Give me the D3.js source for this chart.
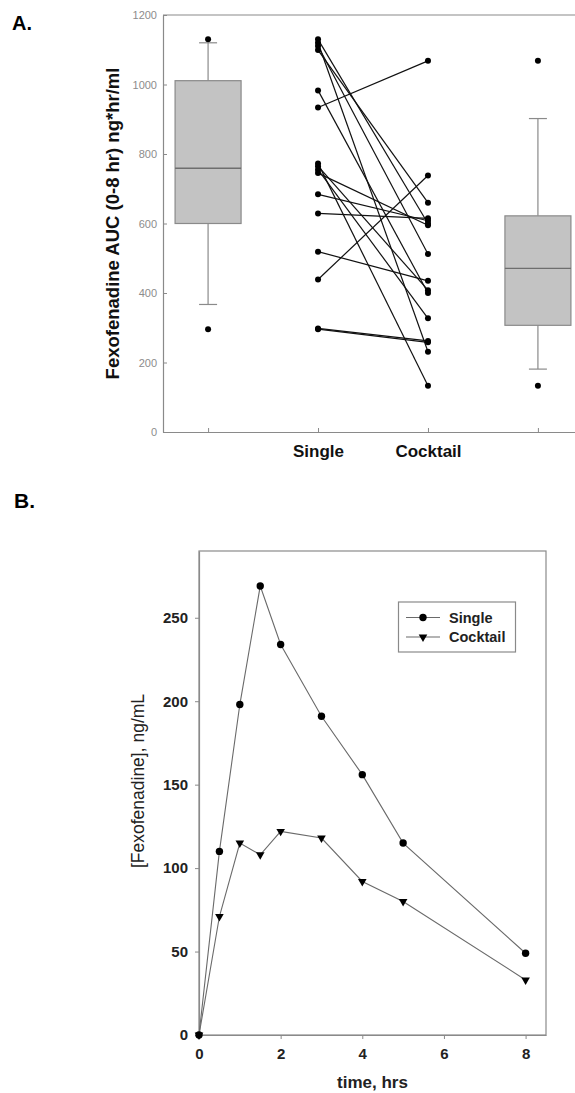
<!DOCTYPE html>
<html>
<head>
<meta charset="utf-8">
<script src="https://cdn.jsdelivr.net/npm/d3@7"></script>
<style>
  html, body { margin: 0; padding: 0; background: #fff; }
  svg { display: block; font-family: "Liberation Sans", Arial, sans-serif; }
</style>
</head>
<body>
<svg id="fig" width="575" height="1093"></svg>
<script>
// ---- Panel A: AUC, paired subjects ----
const groupLabels = ["", "Single", "Cocktail", ""];
const aucTicks = [0, 200, 400, 600, 800, 1000, 1200];
// paired by subject: singleAUC[i] -> cocktailAUC[i]
const singleAUC   = [1130, 1120, 1111, 1099, 983, 934, 773, 765, 755, 745, 684, 629, 519, 439, 298, 296];
const cocktailAUC = [600, 231, 512, 660, 400, 1068, 133, 408, 327, 595, 608, 615, 435, 738, 262, 258];
// box summaries (10th/25th/50th/75th/90th percentile) and outlying points
const boxPositions   = [1, 4];
const boxLowWhisker  = [367, 181];
const boxQ1          = [600, 307];
const boxMedian      = [759, 471];
const boxQ3          = [1011, 622];
const boxHighWhisker = [1120, 902];
const boxOutliers    = [[1130, 296], [1068, 133]];

// ---- Panel B: concentration-time profiles ----
const timeHrs      = [0, 0.5, 1, 1.5, 2, 3, 4, 5, 8];
const singleConc   = [0, 110, 198, 269, 234, 191, 156, 115, 49];
const cocktailConc = [0, 71, 115, 108, 122, 118, 92, 80, 33];
const concTicks = [0, 50, 100, 150, 200, 250];
const timeTicks = [0, 2, 4, 6, 8];
const seriesNames = ["Single", "Cocktail"];

const svg = d3.select("#fig");
const frameGray = "#8a8a8a";
const fontFam = "Liberation Sans, Arial, sans-serif";

// ===================== Panel A =====================
const xA = d3.scaleLinear().domain([0.59, 4.41]).range([163, 583]);
const yA = d3.scaleLinear().domain([0, 1200]).range([432, 15]);
const gA = svg.append("g");

svg.append("text").attr("x", 12).attr("y", 30)
  .attr("font-size", 20).attr("font-weight", "bold").text("A.");

// frame (top / right edges)
gA.append("line").attr("x1", xA.range()[0]).attr("x2", xA.range()[1])
  .attr("y1", yA(1200)).attr("y2", yA(1200)).attr("stroke", frameGray).attr("stroke-width", 1.2);
gA.append("line").attr("x1", xA.range()[1]).attr("x2", xA.range()[1])
  .attr("y1", yA(1200)).attr("y2", yA(0)).attr("stroke", frameGray).attr("stroke-width", 1.2);

const yAxisA = gA.append("g").attr("transform", `translate(${xA.range()[0]},0)`)
  .call(d3.axisLeft(yA).tickValues(aucTicks).tickFormat(d3.format("d"))
    .tickSizeInner(-4).tickSizeOuter(0).tickPadding(6));
yAxisA.select(".domain").attr("stroke", frameGray).attr("stroke-width", 1.2);
yAxisA.selectAll(".tick line").attr("stroke", frameGray);
yAxisA.selectAll(".tick text").attr("fill", "#8c8c8c").attr("font-size", 11)
  .attr("font-family", fontFam);

const xAxisA = gA.append("g").attr("transform", `translate(0,${yA(0)})`)
  .call(d3.axisBottom(xA).tickValues([1, 2, 3, 4]).tickSizeInner(-4).tickSizeOuter(0)
    .tickPadding(13).tickFormat((d, i) => groupLabels[i]));
xAxisA.select(".domain").attr("stroke", frameGray).attr("stroke-width", 1.2);
xAxisA.selectAll(".tick line").attr("stroke", frameGray);
xAxisA.selectAll(".tick text").attr("fill", "#111").attr("font-size", 17)
  .attr("font-weight", "bold").attr("font-family", fontFam);

gA.append("text")
  .attr("transform", `translate(113,${(yA(0) + yA(1200)) / 2}) rotate(-90)`)
  .attr("text-anchor", "middle").attr("dy", "0.35em")
  .attr("font-size", 18.5).attr("font-weight", "bold").attr("fill", "#111")
  .text("Fexofenadine AUC (0-8 hr) ng*hr/ml");

// box plots
const boxW = 66, capW = 18;
boxPositions.forEach((p, i) => {
  const cx = xA(p);
  const g = gA.append("g");
  g.append("line").attr("x1", cx).attr("x2", cx)
    .attr("y1", yA(boxHighWhisker[i])).attr("y2", yA(boxQ3[i])).attr("stroke", frameGray).attr("stroke-width", 1.2);
  g.append("line").attr("x1", cx).attr("x2", cx)
    .attr("y1", yA(boxQ1[i])).attr("y2", yA(boxLowWhisker[i])).attr("stroke", frameGray).attr("stroke-width", 1.2);
  [boxHighWhisker[i], boxLowWhisker[i]].forEach(v => {
    g.append("line").attr("x1", cx - capW / 2).attr("x2", cx + capW / 2)
      .attr("y1", yA(v)).attr("y2", yA(v)).attr("stroke", frameGray).attr("stroke-width", 1.2);
  });
  g.append("rect").attr("x", cx - boxW / 2).attr("width", boxW)
    .attr("y", yA(boxQ3[i])).attr("height", yA(boxQ1[i]) - yA(boxQ3[i]))
    .attr("fill", "#c3c3c3").attr("stroke", frameGray).attr("stroke-width", 1.2);
  g.append("line").attr("x1", cx - boxW / 2).attr("x2", cx + boxW / 2)
    .attr("y1", yA(boxMedian[i])).attr("y2", yA(boxMedian[i])).attr("stroke", "#6e6e6e").attr("stroke-width", 1.3);
  boxOutliers[i].forEach(v => {
    g.append("circle").attr("cx", cx).attr("cy", yA(v)).attr("r", 3).attr("fill", "#000");
  });
});

// paired subject lines
const pairs = singleAUC.map((s, i) => [s, cocktailAUC[i]]);
gA.append("g").selectAll("line").data(pairs).join("line")
  .attr("x1", xA(2)).attr("x2", xA(3))
  .attr("y1", d => yA(d[0])).attr("y2", d => yA(d[1]))
  .attr("stroke", "#111").attr("stroke-width", 1.2);
gA.append("g").selectAll("circle").data(singleAUC).join("circle")
  .attr("cx", xA(2)).attr("cy", d => yA(d)).attr("r", 3).attr("fill", "#000");
gA.append("g").selectAll("circle").data(cocktailAUC).join("circle")
  .attr("cx", xA(3)).attr("cy", d => yA(d)).attr("r", 3).attr("fill", "#000");

// ===================== Panel B =====================
const xB = d3.scaleLinear().domain([0, 8.5]).range([199, 546]);
const yB = d3.scaleLinear().domain([0, 290]).range([1035, 551]);
const gB = svg.append("g");

svg.append("text").attr("x", 14).attr("y", 508)
  .attr("font-size", 21).attr("font-weight", "bold").text("B.");

gB.append("rect").attr("x", xB(0)).attr("y", yB(290))
  .attr("width", xB(8.5) - xB(0)).attr("height", yB(0) - yB(290))
  .attr("fill", "none").attr("stroke", frameGray).attr("stroke-width", 1.2);

const yAxisB = gB.append("g").attr("transform", `translate(${xB(0)},0)`)
  .call(d3.axisLeft(yB).tickValues(concTicks).tickSizeInner(4).tickSizeOuter(0).tickPadding(7));
const xAxisB = gB.append("g").attr("transform", `translate(0,${yB(0)})`)
  .call(d3.axisBottom(xB).tickValues(timeTicks).tickSizeInner(4).tickSizeOuter(0).tickPadding(9));
[yAxisB, xAxisB].forEach(ax => {
  ax.select(".domain").attr("stroke", frameGray).attr("stroke-width", 1.2);
  ax.selectAll(".tick line").attr("stroke", frameGray);
  ax.selectAll(".tick text").attr("fill", "#222").attr("font-size", 15).attr("font-weight", "bold")
    .attr("font-family", fontFam);
});

gB.append("text")
  .attr("transform", `translate(138,781) rotate(-90)`)
  .attr("text-anchor", "middle").attr("dy", "0.35em")
  .attr("font-size", 17.5).attr("fill", "#222")
  .text("[Fexofenadine], ng/mL");
gB.append("text").attr("x", (xB(0) + xB(8.5)) / 2).attr("y", 1088)
  .attr("text-anchor", "middle").attr("font-size", 17).attr("font-weight", "bold").attr("fill", "#222")
  .text("time, hrs");

const lineGen = d3.line().x(d => xB(d[0])).y(d => yB(d[1]));
const singleSeries = timeHrs.map((t, i) => [t, singleConc[i]]);
const cocktailSeries = timeHrs.map((t, i) => [t, cocktailConc[i]]);
gB.append("path").datum(singleSeries).attr("d", lineGen)
  .attr("fill", "none").attr("stroke", "#6a6a6a").attr("stroke-width", 1.1);
gB.append("path").datum(cocktailSeries).attr("d", lineGen)
  .attr("fill", "none").attr("stroke", "#6a6a6a").attr("stroke-width", 1.1);

const tri = d3.symbol().type(d3.symbolTriangle).size(32);
gB.append("g").selectAll("path").data(cocktailSeries).join("path")
  .attr("d", tri)
  .attr("transform", d => `translate(${xB(d[0])},${yB(d[1])}) rotate(180)`)
  .attr("fill", "#000");
gB.append("g").selectAll("circle").data(singleSeries).join("circle")
  .attr("cx", d => xB(d[0])).attr("cy", d => yB(d[1])).attr("r", 3.7).attr("fill", "#000");

// legend
const lg = gB.append("g");
lg.append("rect").attr("x", 398.5).attr("y", 602).attr("width", 117).attr("height", 50)
  .attr("fill", "#fff").attr("stroke", frameGray).attr("stroke-width", 1.2);
seriesNames.forEach((name, i) => {
  const y = 617.5 + i * 19.5;
  lg.append("line").attr("x1", 406).attr("x2", 440).attr("y1", y).attr("y2", y)
    .attr("stroke", "#6a6a6a").attr("stroke-width", 1.1);
  if (i === 0) {
    lg.append("circle").attr("cx", 423).attr("cy", y).attr("r", 3.7).attr("fill", "#000");
  } else {
    lg.append("path").attr("d", tri).attr("transform", `translate(423,${y}) rotate(180)`).attr("fill", "#000");
  }
  lg.append("text").attr("x", 449).attr("y", y).attr("dy", "0.35em")
    .attr("font-size", 14.5).attr("font-weight", "bold").attr("fill", "#222").text(name);
});
</script>
</body>
</html>
